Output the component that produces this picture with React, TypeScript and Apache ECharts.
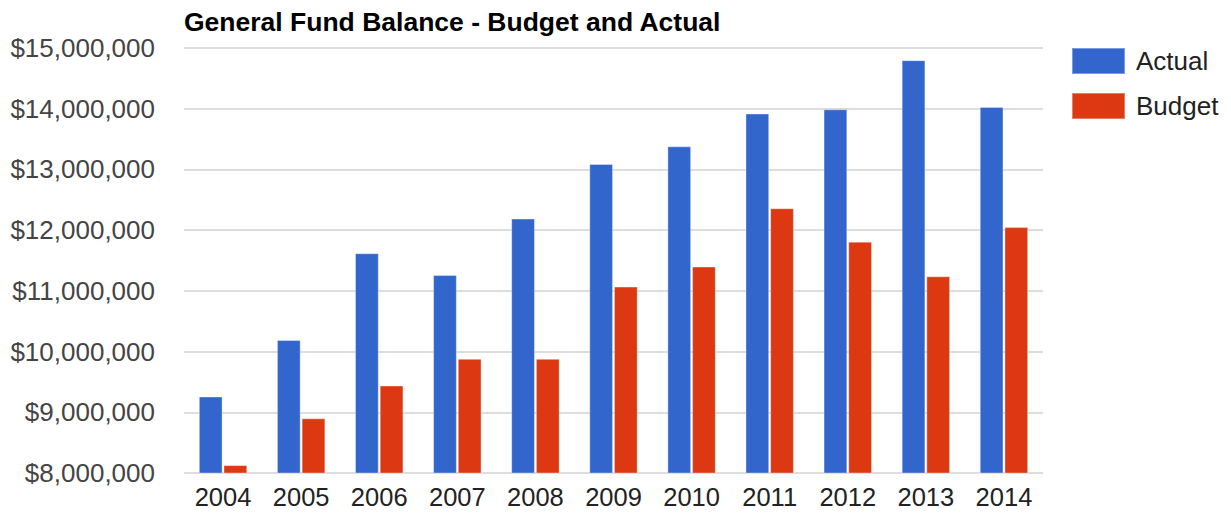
import React, { useEffect, useRef } from "react";
import * as echarts from "echarts";

const years = ["2004", "2005", "2006", "2007", "2008", "2009", "2010", "2011", "2012", "2013", "2014"];
const actual = [9260000, 10190000, 11620000, 11260000, 12190000, 13090000, 13380000, 13920000, 13990000, 14800000, 14030000];
const budget = [8130000, 8900000, 9440000, 9880000, 9880000, 11070000, 11400000, 12360000, 11810000, 11240000, 12050000];
const yMin = 8000000;
const yMax = 15000000;
const yStep = 1000000;

const fmt = (v: number) => "$" + v.toLocaleString("en-US");

export default function App() {
  const ref = useRef<HTMLDivElement>(null);
  useEffect(() => {
    document.body.style.margin = "0";
    const chart = echarts.init(ref.current!, undefined, { renderer: "svg" });
    const font = "Arial, 'Liberation Sans', sans-serif";
    chart.setOption({
      animation: false,
      backgroundColor: "#ffffff",
      title: {
        text: "General Fund Balance - Budget and Actual",
        left: 184,
        top: 8,
        padding: 0,
        textStyle: { fontFamily: font, fontSize: 26.5, fontWeight: "bold", color: "#000000" },
      },
      legend: {
        orient: "vertical",
        left: 1071,
        top: 47,
        padding: 0,
        itemWidth: 53,
        itemHeight: 26,
        itemGap: 17,
        icon: "rect",
        textStyle: { fontFamily: font, fontSize: 26, color: "#222222", padding: [0, 0, 0, 6] },
        data: ["Actual", "Budget"],
      },
      grid: { left: 184, right: 188, top: 48, bottom: 40, containLabel: false },
      xAxis: {
        type: "category",
        data: years,
        axisLine: { show: false },
        axisTick: { show: false },
        axisLabel: { fontFamily: font, fontSize: 25.5, color: "#222222", margin: 11 },
      },
      yAxis: {
        type: "value",
        min: yMin,
        max: yMax,
        interval: yStep,
        axisLine: { show: false },
        axisTick: { show: false },
        splitLine: { lineStyle: { color: "#dddddd", width: 2 } },
        axisLabel: { fontFamily: font, fontSize: 26, color: "#444444", margin: 29, formatter: fmt },
      },
      series: [
        {
          name: "Actual",
          type: "bar",
          data: actual,
          itemStyle: { color: "#3366cc", borderColor: "rgba(255,255,255,0.35)", borderWidth: 1 },
          barGap: "4%",
          barCategoryGap: "38%",
        },
        {
          name: "Budget",
          type: "bar",
          data: budget,
          itemStyle: { color: "#dc3912", borderColor: "rgba(255,255,255,0.35)", borderWidth: 1 },
        },
      ],
    });
    return () => chart.dispose();
  }, []);
  return <div ref={ref} style={{ width: 1231, height: 513 }} />;
}
